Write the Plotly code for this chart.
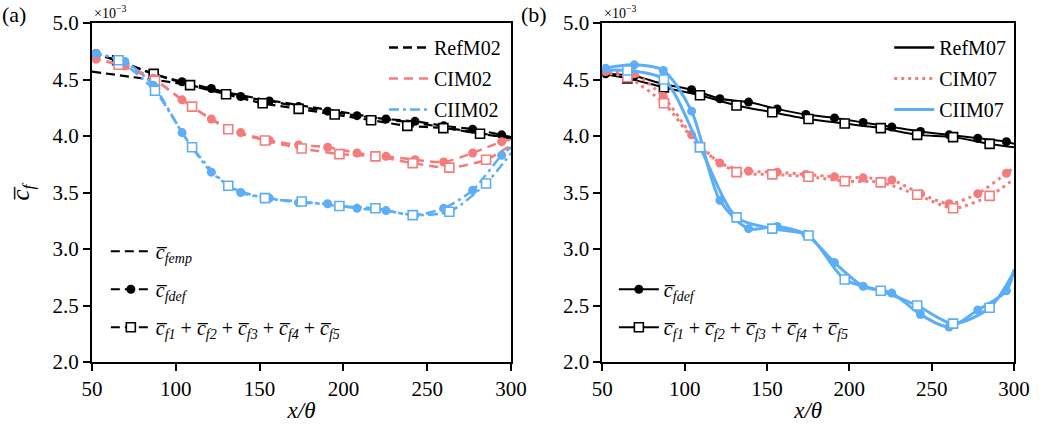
import plotly.graph_objects as go

# ---------------- Panel (a) data ----------------
xa_emp = [50, 75, 100, 125, 150, 175, 200, 225, 250, 275, 300]
ya_emp_ref = [4.57, 4.52, 4.47, 4.40, 4.33, 4.27, 4.21, 4.15, 4.10, 4.04, 3.98]

xa_def = [50, 52.4, 69.6, 86.6, 103.7, 121.2, 138.7, 155.8, 173.3, 190.6, 208.1, 225.4, 242.7, 259.8, 277.1, 294.4, 300]
ya_def_ref = [4.74, 4.73, 4.64, 4.55, 4.48, 4.42, 4.35, 4.31, 4.26, 4.22, 4.18, 4.15, 4.13, 4.09, 4.06, 4.01, 3.99]
ya_def_ci = [4.69, 4.68, 4.62, 4.51, 4.32, 4.15, 4.03, 3.96, 3.92, 3.90, 3.85, 3.82, 3.79, 3.77, 3.85, 3.95, 3.97]
ya_def_cii = [4.74, 4.73, 4.66, 4.45, 4.03, 3.68, 3.50, 3.45, 3.41, 3.40, 3.36, 3.34, 3.30, 3.36, 3.52, 3.83, 3.90]

xa_sum_ref = [50, 65.0, 86.8, 108.5, 130.0, 151.8, 173.3, 194.8, 216.5, 238.1, 259.6, 281.5, 300]
ya_sum_ref = [4.73, 4.67, 4.55, 4.45, 4.37, 4.29, 4.24, 4.19, 4.14, 4.09, 4.07, 4.02, 3.98]
xa_sum = [50, 65.9, 87.6, 109.7, 131.3, 153.2, 175.1, 197.6, 219.1, 241.3, 263.2, 285.1, 300]
ya_sum_ci = [4.69, 4.63, 4.49, 4.26, 4.06, 3.96, 3.89, 3.84, 3.82, 3.76, 3.72, 3.79, 3.92]
ya_sum_cii = [4.74, 4.67, 4.40, 3.90, 3.56, 3.45, 3.42, 3.38, 3.36, 3.30, 3.33, 3.58, 3.85]

# ---------------- Panel (b) data ----------------
xb_def = [50, 52, 69.4, 87, 104.2, 121.4, 138.8, 156.2, 173.6, 191, 208.4, 225.8, 243.2, 260.6, 278, 295.4, 300]
yb_def_ref = [4.55, 4.55, 4.53, 4.46, 4.41, 4.33, 4.30, 4.24, 4.19, 4.16, 4.12, 4.08, 4.04, 4.01, 3.98, 3.95, 3.93]
yb_def_ci = [4.56, 4.57, 4.55, 4.35, 4.01, 3.76, 3.69, 3.68, 3.66, 3.64, 3.63, 3.61, 3.49, 3.40, 3.49, 3.67, 3.72]
yb_def_cii = [4.59, 4.60, 4.63, 4.58, 4.22, 3.43, 3.18, 3.20, 3.13, 2.88, 2.67, 2.61, 2.42, 2.31, 2.46, 2.63, 2.82]

xb_sum = [50, 65.2, 87.4, 109.3, 131.5, 153.2, 175.2, 197.2, 219.1, 241.2, 263, 285.2, 300]
yb_sum_ref = [4.55, 4.51, 4.43, 4.36, 4.27, 4.21, 4.15, 4.11, 4.07, 4.01, 3.99, 3.93, 3.90]
yb_sum_ci = [4.56, 4.52, 4.29, 3.90, 3.68, 3.66, 3.64, 3.60, 3.59, 3.48, 3.36, 3.47, 3.62]
yb_sum_cii = [4.58, 4.58, 4.50, 3.90, 3.28, 3.18, 3.12, 2.73, 2.63, 2.50, 2.34, 2.48, 2.80]

x_ticks = [50, 100, 150, 200, 250, 300]
y_ticks = [2.0, 2.5, 3.0, 3.5, 4.0, 4.5, 5.0]

BLACK = "#000000"
RED = "#F47C7C"
BLUE = "#5BAEF7"
FONT = "Liberation Serif"

fig = go.Figure()


def add_series(x, y, color, dash, width, symbol, xa, ya, smooth=0.7):
    fig.add_trace(go.Scatter(x=x, y=y, mode="lines", line=dict(color=color, dash=dash, width=width,
                                                               shape="spline", smoothing=smooth),
                             xaxis=xa, yaxis=ya, showlegend=False, hoverinfo="skip"))
    if symbol == "circle":
        mk = dict(symbol="circle", size=9, color=color, line=dict(width=0))
    else:
        mk = dict(symbol="square", size=9, color="white", line=dict(width=1.6, color=color))
    fig.add_trace(go.Scatter(x=x[1:-1], y=y[1:-1], mode="markers", marker=mk,
                             xaxis=xa, yaxis=ya, showlegend=False, hoverinfo="skip"))


# Panel (a)
DA_REF = "9px,5px"
DA_CI = "9px,6px"
DA_CII = "10px,4px,3px,4px"
fig.add_trace(go.Scatter(x=xa_emp, y=ya_emp_ref, mode="lines",
                         line=dict(color=BLACK, dash=DA_REF, width=2.2, shape="spline"),
                         xaxis="x", yaxis="y", showlegend=False, hoverinfo="skip"))
add_series(xa_def, ya_def_ref, BLACK, DA_REF, 2.2, "circle", "x", "y")
add_series(xa_sum_ref, ya_sum_ref, BLACK, DA_REF, 2.2, "square", "x", "y")
add_series(xa_def, ya_def_ci, RED, DA_CI, 2.5, "circle", "x", "y")
add_series(xa_sum, ya_sum_ci, RED, DA_CI, 2.5, "square", "x", "y")
add_series(xa_def, ya_def_cii, BLUE, DA_CII, 2.5, "circle", "x", "y")
add_series(xa_sum, ya_sum_cii, BLUE, DA_CII, 2.5, "square", "x", "y")

# Panel (b)
DB_CI = "3px,4px"
add_series(xb_def, yb_def_ref, BLACK, "solid", 2.0, "circle", "x2", "y2")
add_series(xb_sum, yb_sum_ref, BLACK, "solid", 2.0, "square", "x2", "y2")
add_series(xb_def, yb_def_ci, RED, DB_CI, 3.0, "circle", "x2", "y2")
add_series(xb_sum, yb_sum_ci, RED, DB_CI, 3.0, "square", "x2", "y2")
add_series(xb_def, yb_def_cii, BLUE, "solid", 3.0, "circle", "x2", "y2", 0.8)
add_series(xb_sum, yb_sum_cii, BLUE, "solid", 3.0, "square", "x2", "y2", 0.8)

# Legend entries
_gid = [0]


def leg(name, color, dash, width, legend, symbol=None, mode="lines"):
    kw = {}
    if symbol == "circle":
        kw["marker"] = dict(symbol="circle", size=9, color=color)
        mode = "lines+markers"
    elif symbol == "square":
        kw["marker"] = dict(symbol="square", size=9, color="white", line=dict(width=1.6, color=color))
        mode = "lines+markers"
    _gid[0] += 1
    fig.add_trace(go.Scatter(x=[None], y=[None], mode=mode, name=name,
                             line=dict(color=color, dash=dash, width=width),
                             legend=legend, legendgroup="g%d" % _gid[0],
                             xaxis="x", yaxis="y", **kw))

leg("RefM02", BLACK, DA_REF, 2.5, "legend")
leg("CIM02", RED, DA_CI, 2.5, "legend")
leg("CIIM02", BLUE, DA_CII, 2.5, "legend")

SUMTXT = ("<i>c̅<sub>f1</sub></i> + <i>c̅<sub>f2</sub></i> + <i>c̅<sub>f3</sub></i> + "
          "<i>c̅<sub>f4</sub></i> + <i>c̅<sub>f5</sub></i>")
leg("<i>c̅<sub>femp</sub></i>", BLACK, DA_REF, 2.2, "legend2")
leg("<i>c̅<sub>fdef</sub></i>", BLACK, DA_REF, 2.2, "legend2", "circle")
leg(SUMTXT, BLACK, DA_REF, 2.2, "legend2", "square")

leg("RefM07", BLACK, "solid", 2.5, "legend3")
leg("CIM07", RED, DB_CI, 3.0, "legend3")
leg("CIIM07", BLUE, "solid", 3.0, "legend3")

leg("<i>c̅<sub>fdef</sub></i>", BLACK, "solid", 2.2, "legend4", "circle")
leg(SUMTXT, BLACK, "solid", 2.2, "legend4", "square")

axis_common = dict(range=[50, 300], tickvals=x_ticks, showline=True, mirror=True, linecolor="black",
                   linewidth=2, ticks="outside", ticklen=7, tickwidth=2, tickcolor="black",
                   showgrid=False, zeroline=False, automargin=False,
                   tickfont=dict(family=FONT, size=21, color="black"))
yaxis_common = dict(range=[2.0, 5.0], tickvals=y_ticks, tickformat=".1f", showline=True, mirror=True,
                    linecolor="black", linewidth=2, ticks="outside", ticklen=7, tickwidth=2,
                    tickcolor="black", showgrid=False, zeroline=False, automargin=False,
                    tickfont=dict(family=FONT, size=21, color="black"))

legfont = dict(family=FONT, size=20, color="black")

fig.update_layout(
    width=1058, height=431,
    margin=dict(l=92, r=44, t=23, b=69, autoexpand=False),
    font=dict(family=FONT, color="black"),
    paper_bgcolor="white", plot_bgcolor="white",
    xaxis=dict(domain=[0, 0.4545], anchor="y",
               title=dict(text="<i>x/θ</i>", font=dict(family=FONT, size=23, color="black"), standoff=2),
               **axis_common),
    yaxis=dict(domain=[0, 1], anchor="x",
               title=dict(text="<i>c̅<sub>f</sub></i>", font=dict(family=FONT, size=25, color="black"),
                          standoff=16),
               **yaxis_common),
    xaxis2=dict(domain=[0.5535, 1], anchor="y2",
                title=dict(text="<i>x/θ</i>", font=dict(family=FONT, size=23, color="black"), standoff=2),
                **axis_common),
    yaxis2=dict(domain=[0, 1], anchor="x2", **yaxis_common),
    legend=dict(x=0.449, y=0.985, xanchor="right", yanchor="top", bgcolor="rgba(0,0,0,0)",
                font=legfont, itemwidth=40, tracegroupgap=2),
    legend2=dict(x=0.015, y=0.045, xanchor="left", yanchor="bottom", bgcolor="rgba(0,0,0,0)",
                 font=legfont, itemwidth=40, tracegroupgap=9),
    legend3=dict(x=0.997, y=0.985, xanchor="right", yanchor="top", bgcolor="rgba(0,0,0,0)",
                 font=legfont, itemwidth=40, tracegroupgap=2),
    legend4=dict(x=0.566, y=0.045, xanchor="left", yanchor="bottom", bgcolor="rgba(0,0,0,0)",
                 font=legfont, itemwidth=40, tracegroupgap=9),
    annotations=[
        dict(text="×10<sup>−3</sup>", xref="paper", yref="paper", x=0.0, y=1.0, xanchor="left",
             yanchor="bottom", showarrow=False, font=dict(family=FONT, size=14, color="black"), yshift=0),
        dict(text="×10<sup>−3</sup>", xref="paper", yref="paper", x=0.5535, y=1.0, xanchor="left",
             yanchor="bottom", showarrow=False, font=dict(family=FONT, size=14, color="black"), yshift=0),
        dict(text="(a)", xref="paper", yref="paper", x=-0.0998, y=1.068, xanchor="left", yanchor="top",
             showarrow=False, font=dict(family=FONT, size=22, color="black")),
        dict(text="(b)", xref="paper", yref="paper", x=0.463, y=1.068, xanchor="left", yanchor="top",
             showarrow=False, font=dict(family=FONT, size=22, color="black")),
    ],
)

fig.write_html("out.html", config={"displayModeBar": False},
               post_script="document.body.style.margin='0';document.body.style.padding='0';"
                           "document.documentElement.style.overflow='hidden';")
